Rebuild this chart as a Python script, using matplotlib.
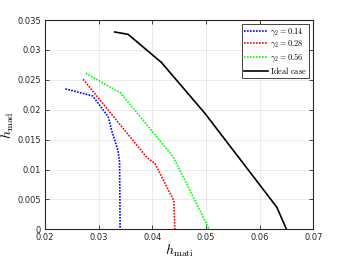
import matplotlib
matplotlib.use("Agg")
import matplotlib.pyplot as plt

plt.rcParams['mathtext.fontset'] = 'cm'

blue_x = [0.0238, 0.0289, 0.0318, 0.0324, 0.0336, 0.0339, 0.0340]
blue_y = [0.0235, 0.0223, 0.0188, 0.0166, 0.0132, 0.0113, 0.0]
red_x = [0.0271, 0.0390, 0.0405, 0.0440, 0.0442]
red_y = [0.0251, 0.0120, 0.0110, 0.0048, 0.0]
green_x = [0.0276, 0.0341, 0.0439, 0.0506]
green_y = [0.0261, 0.0228, 0.0121, 0.0]
ideal_x = [0.0330, 0.0355, 0.0417, 0.0498, 0.0632, 0.0650]
ideal_y = [0.0330, 0.0326, 0.0279, 0.0194, 0.0037, 0.0]

labels = [r'$\gamma_2 = 0.14$', r'$\gamma_2 = 0.28$', r'$\gamma_2 = 0.56$', r'$\mathrm{Ideal\ case}$']
xticks = [0.02, 0.03, 0.04, 0.05, 0.06, 0.07]
yticks = [0, 0.005, 0.01, 0.015, 0.02, 0.025, 0.03, 0.035]

fig = plt.figure(figsize=(3.46, 2.6), dpi=100)
ax = fig.add_axes([0.130, 0.118, 0.7755, 0.805])

ax.plot(blue_x, blue_y, color=(0, 0, 1), linestyle=(0, (1, 0.8)), lw=1.2, label=labels[0])
ax.plot(red_x, red_y, color=(1, 0, 0), linestyle=(0, (1, 0.8)), lw=1.2, label=labels[1])
ax.plot(green_x, green_y, color=(0, 1, 0), linestyle=(0, (1, 0.8)), lw=1.2, label=labels[2])
ax.plot(ideal_x, ideal_y, color='black', lw=1.2, label=labels[3])

ax.set_xlim(0.02, 0.07)
ax.set_ylim(0, 0.035)
ax.set_xticks(xticks)
ax.set_yticks(yticks)
ax.set_xticklabels(['0.02', '0.03', '0.04', '0.05', '0.06', '0.07'])
ax.set_yticklabels(['0', '0.005', '0.01', '0.015', '0.02', '0.025', '0.03', '0.035'])
ax.tick_params(direction='in', top=True, right=True, labelsize=6, length=3,
               width=0.6, colors='#262626', labelcolor='#262626', pad=3)
ax.grid(True, color='#e6e6e6', lw=0.6)
ax.set_axisbelow(True)
for s in ax.spines.values():
    s.set_linewidth(0.8)
    s.set_color('#262626')

ax.set_xlabel(r'$h_{\mathrm{mati}}$', fontsize=10, labelpad=0)
ax.set_ylabel(r'$h_{\mathrm{mad}}$', fontsize=10, labelpad=1)

leg = ax.legend(loc='upper right', fontsize=6, handlelength=2.8, handletextpad=0.3,
                borderpad=0.25, labelspacing=0.1, borderaxespad=0.5, fancybox=False,
                framealpha=1, edgecolor='#262626')
leg.get_frame().set_linewidth(0.6)

fig.savefig('out.png', dpi=100)
